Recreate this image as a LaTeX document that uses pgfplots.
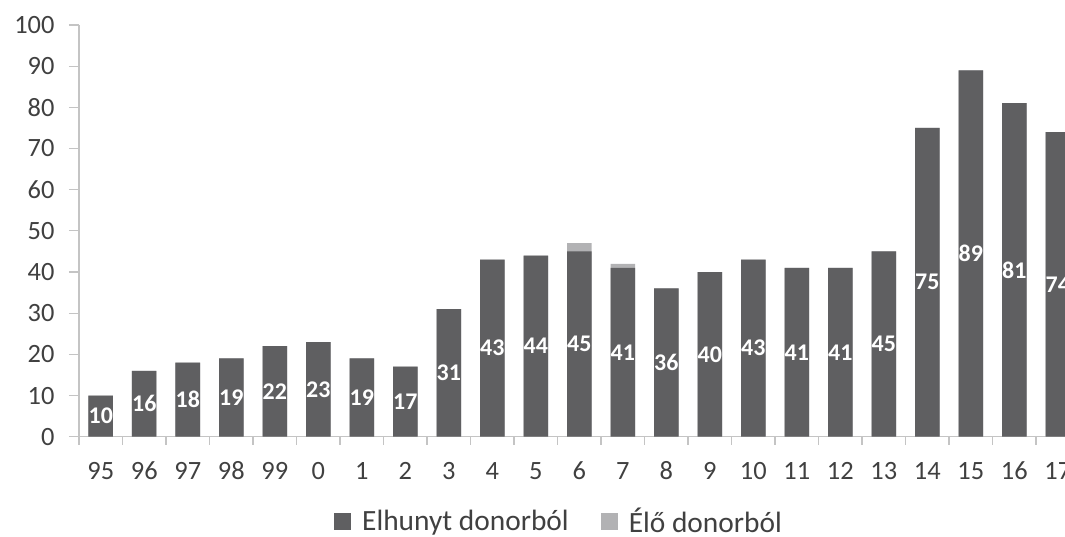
\documentclass[border=0pt]{standalone}
\usepackage{pgfplots}
\pgfplotsset{compat=1.18}
\usepackage{pgfplotstable}
\usepackage{fontspec}
\setmainfont{Carlito}

\definecolor{deadc}{HTML}{5F5F61}
\definecolor{livec}{HTML}{B2B2B4}
\definecolor{axisc}{HTML}{C4C4C4}
\definecolor{textc}{HTML}{404040}

% transplants per year: from deceased and from living donors
\pgfplotstableread{
idx year dead live
0  95 10 0
1  96 16 0
2  97 18 0
3  98 19 0
4  99 22 0
5  0  23 0
6  1  19 0
7  2  17 0
8  3  31 0
9  4  43 0
10 5  44 0
11 6  45 2
12 7  41 1
13 8  36 0
14 9  40 0
15 10 43 0
16 11 41 0
17 12 41 0
18 13 45 0
19 14 75 0
20 15 89 0
21 16 81 0
22 17 74 0
}\donors

\begin{document}
\begin{tikzpicture}
\useasboundingbox (-79bp,-100.3bp) rectangle (986bp,436.7bp);
\clip (-79bp,-100.3bp) rectangle (986bp,436.7bp);
\begin{axis}[
  at={(0,0)}, anchor=south west,
  scale only axis,
  width=1000.5bp, height=411.7bp,
  xmin=-0.5, xmax=22.5, ymin=0, ymax=100,
  axis lines*=left,
  axis line style={draw=axisc, line width=1.2bp},
  tick style={draw=axisc, line width=1.2bp},
  tick align=outside,
  ytick={0,10,...,100},
  xtick={0,...,22},
  xticklabels={95,96,97,98,99,0,1,2,3,4,5,6,7,8,9,10,11,12,13,14,15,16,17},
  major x tick style={draw=none},
  minor xtick={-0.5,0.5,...,22.5},
  major tick length=10bp, minor tick length=8bp,
  /pgf/number format/assume math mode=true,
  ticklabel style={font=\fontsize{26.5}{31}\selectfont, text=textc},
  yticklabel style={xshift=-11bp},
  xticklabel style={anchor=base, yshift=-33bp},
  legend columns=2,
  reverse legend,
  legend style={at={(0.4798,-0.2048)}, anchor=center, draw=none, fill=none,
    font=\fontsize{29.5}{34}\selectfont, text=textc,
    /tikz/every even column/.append style={column sep=30bp}},
  sq legend/.style={legend image code/.code={%
    \fill[##1] (0bp,-8.5bp) rectangle (17bp,8.5bp);
    \path (26bp,0bp);}},
]
\addplot[ybar, bar width=24.5bp, bar shift=0pt, fill=livec, draw=none, sq legend]
  table[x=idx, y expr=\thisrow{dead}+\thisrow{live}] {\donors};
\addlegendentry{Élő donorból}
\addplot[ybar, bar width=24.5bp, bar shift=0pt, fill=deadc, draw=none, sq legend]
  table[x=idx, y=dead] {\donors};
\addlegendentry{Elhunyt donorból}
% value labels, centred in the deceased-donor bars
\addplot[draw=none, forget plot, nodes near coords, point meta=\thisrow{dead},
  every node near coord/.append style={anchor=center, text=white,
    font=\bfseries\fontsize{24}{28}\selectfont}]
  table[x=idx, y expr=\thisrow{dead}/2] {\donors};
\end{axis}
\end{tikzpicture}
\end{document}
